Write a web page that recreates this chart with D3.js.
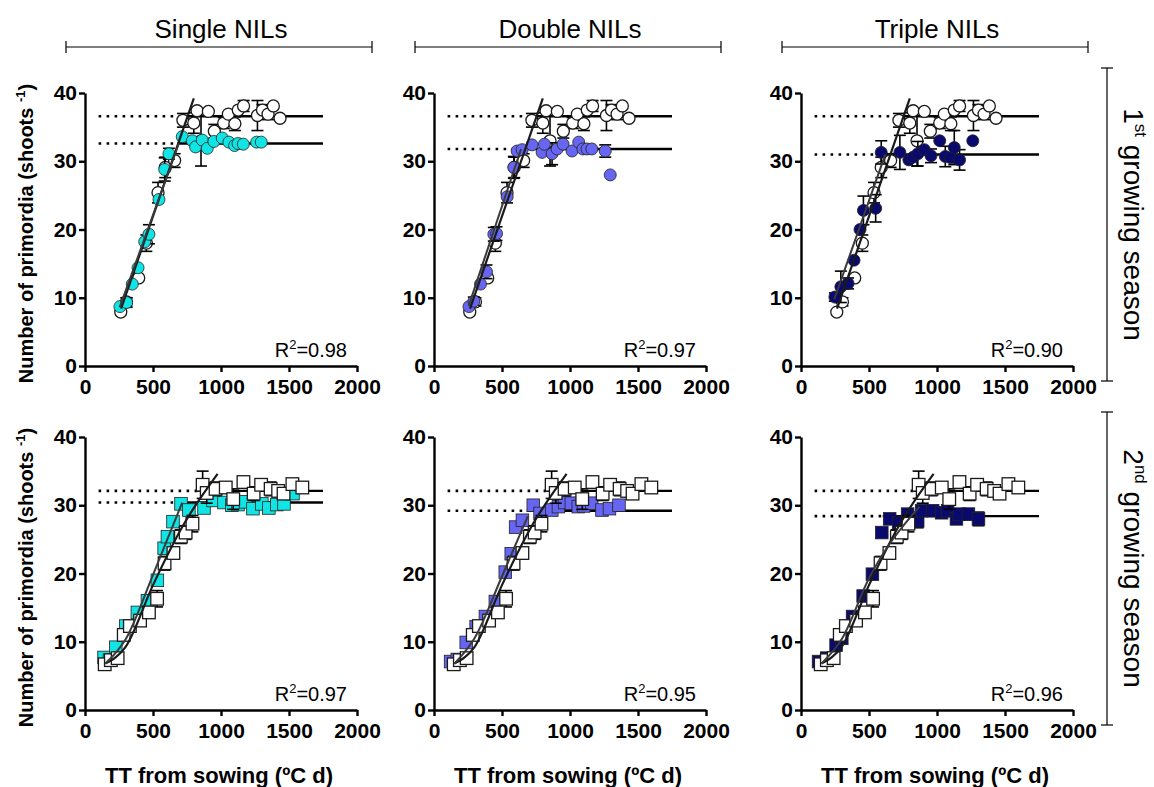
<!DOCTYPE html>
<html>
<head>
<meta charset="utf-8">
<script src="https://cdn.jsdelivr.net/npm/d3@7"></script>
<style>
  body { margin: 0; background: #fff; }
  svg text { font-family: "Liberation Sans", Arial, sans-serif; fill: #000; }
</style>
</head>
<body>
<svg id="chart" width="1154" height="787"></svg>
<script>
// ---- data ----
const xTicks = [0, 500, 1000, 1500, 2000]
const yTicks = [0, 10, 20, 30, 40]
const columnNames = ['Single NILs', 'Double NILs', 'Triple NILs']
const seasonNames = [['1', 'st'], ['2', 'nd']]
const r2Values = [['0.98', '0.97', '0.90'], ['0.97', '0.95', '0.96']]

// 1st season, control (open circles, same in every panel of the row)
const ctrl1X = [263, 305, 395, 451, 537, 590, 659, 720, 800, 824, 853, 907, 951, 1020, 1054, 1102, 1127, 1166, 1268, 1305, 1346, 1385, 1434]
const ctrl1Y = [7.9, 9.4, 12.9, 18.0, 25.4, 29.1, 30.1, 36.0, 35.6, 37.4, 33.0, 37.3, 34.4, 35.6, 36.9, 35.5, 37.5, 38.1, 36.7, 37.5, 36.9, 38.1, 36.3]
const ctrl1E = [0, 0.6, 0, 1.2, 1.5, 1.5, 1, 1, 1.5, 0, 3.7, 0, 1, 0.8, 0, 1, 0, 0.8, 2.2, 0.8, 0.8, 0, 0]

const single1X = [257, 306, 348, 390, 439, 470, 544, 586, 617, 715, 789, 813, 862, 899, 948, 1009, 1058, 1100, 1125, 1164, 1262, 1296]
const single1Y = [8.7, 9.3, 12.0, 14.4, 18.2, 19.3, 24.4, 28.8, 31.1, 33.6, 33.0, 32.1, 33.1, 31.9, 32.9, 33.4, 32.8, 32.3, 32.6, 32.5, 32.8, 32.8]
const single1E = [0, 0.7, 0, 0, 0, 1.4, 0, 1.7, 0.8, 0, 0, 0, 0, 0, 0, 0, 0, 0, 0, 0, 0, 0]

const double1X = [257, 293, 342, 386, 440, 460, 538, 587, 611, 648, 721, 795, 812, 868, 905, 949, 1015, 1064, 1095, 1125, 1161, 1259, 1296]
const double1Y = [8.7, 9.5, 12.0, 13.8, 19.3, 19.4, 24.8, 29.1, 31.5, 31.7, 32.4, 31.3, 32.5, 31.1, 31.8, 32.5, 31.5, 32.8, 31.8, 31.8, 31.8, 31.5, 28.0]
const double1E = [0, 0.6, 0, 1, 1, 1, 0, 1.6, 0, 0, 0, 0, 0, 1.6, 0, 0, 0, 0, 0, 0, 0, 0.9, 0]

const triple1X = [249, 293, 346, 390, 434, 459, 549, 590, 727, 793, 824, 859, 907, 956, 1020, 1061, 1102, 1127, 1166, 1263]
const triple1Y = [10.1, 11.6, 12.1, 15.5, 20.0, 22.8, 23.1, 31.3, 31.3, 30.2, 30.6, 31.1, 31.7, 30.8, 33.0, 30.7, 30.5, 32.0, 30.2, 33.0]
const triple1E = [0.6, 2.3, 0.8, 0, 0, 2.1, 2, 1.7, 2.5, 0, 0, 1.8, 0, 1, 0, 1.5, 0, 2.5, 1.5, 0]

// 2nd season, control (open squares)
const ctrl2X = [145, 190, 240, 285, 330, 405, 470, 530, 585, 650, 705, 740, 790, 865, 895, 960, 1035, 1090, 1165, 1240, 1295, 1365, 1420, 1460, 1525, 1598]
const ctrl2Y = [6.7, 7.3, 7.6, 11.0, 12.3, 13.1, 14.3, 16.3, 21.5, 23.0, 25.4, 26.0, 27.3, 33.0, 31.8, 32.4, 32.6, 30.9, 33.4, 31.7, 33.0, 32.4, 32.1, 31.7, 33.1, 32.6]
const ctrl2E = [0, 0, 0, 0.5, 0, 0, 0, 1.2, 1, 0.8, 1, 1, 1.2, 2, 1.5, 1, 0, 1.5, 0.5, 1, 0.5, 1, 0.8, 0.8, 0, 0.5]

const single2X = [140, 180, 226, 300, 385, 459, 532, 582, 606, 647, 706, 764, 875, 941, 1022, 1080, 1125, 1180, 1235, 1300, 1352, 1410, 1463, 1529]
const single2Y = [7.7, 7.3, 9.2, 12.3, 14.3, 16.0, 19.0, 23.7, 25.4, 27.6, 30.2, 29.3, 29.6, 30.7, 30.4, 30.0, 30.1, 30.5, 29.5, 30.2, 29.6, 30.1, 30.2, 31.7]
const single2E = [0, 0, 0, 0, 0, 0, 0, 0, 0, 0, 0, 0, 0, 0, 0, 0, 0, 0, 0, 0, 0, 0, 0, 0]

const double2X = [122, 171, 237, 310, 378, 451, 524, 568, 600, 650, 730, 780, 866, 915, 960, 1010, 1061, 1100, 1160, 1235, 1290, 1360]
const double2Y = [7.1, 7.4, 9.9, 12.2, 13.7, 15.9, 20.2, 22.9, 26.8, 27.8, 30.0, 28.8, 29.3, 29.8, 30.4, 30.3, 29.8, 29.9, 30.3, 29.3, 29.5, 30.0]
const double2E = [0, 0, 0, 0, 0, 0, 0, 0, 0, 0, 0, 0, 0, 0, 0, 0, 0, 0, 0, 0, 0, 0]

const triple2X = [129, 190, 258, 300, 379, 457, 525, 594, 652, 718, 784, 858, 887, 968, 1034, 1078, 1143, 1165, 1231, 1305]
const triple2Y = [7.1, 7.6, 9.5, 10.5, 13.7, 16.7, 19.9, 26.0, 28.0, 27.4, 28.7, 27.7, 29.2, 29.2, 28.9, 29.2, 28.0, 28.7, 28.7, 28.0]
const triple2E = [0, 0, 0, 0, 0, 0, 0, 0, 0, 0, 0, 1, 0, 0, 0, 0, 0, 0, 0.8, 1]

// fitted lines
const ctrlFit1 = [[265, 8.4], [800, 39.2]]
const nilFit1 = [[[255, 8.6], [690, 32.6]], [[255, 8.8], [640, 31.8]], [[245, 9.8], [620, 31.0]]]
const ctrlFit2 = [[150, 6.8], [300, 9.3], [500, 18.3], [720, 27.0], [975, 34.6]]
const nilFit2 = [
  [[150, 6.8], [300, 10.4], [500, 19.8], [715, 30.4]],
  [[150, 6.8], [300, 10.6], [500, 19.6], [690, 28.4]],
  [[150, 6.8], [300, 10.4], [500, 19.3], [870, 29.8]]
]
const ctrlPlateau = [36.6, 32.1]
const nilPlateau = [[32.6, 31.8, 31.0], [30.4, 29.2, 28.4]]
const ctrlBreak = [700, 825]
const nilBreak = [[680, 570, 550], [670, 682, 601]]
const plateauFrom = 100, plateauTo = 1750

// ---- layout ----
const colLeft = [85, 434, 801]
const rowBottom = [366, 710]
const plotW = 272, plotH = 273
const nilColours = ['#10e4e4', '#6666f2', '#0a0a6e']

const svg = d3.select('#chart')

const rows = [
  {
    shape: 'circle',
    ctrl: { x: ctrl1X, y: ctrl1Y, e: ctrl1E },
    nils: [
      { x: single1X, y: single1Y, e: single1E },
      { x: double1X, y: double1Y, e: double1E },
      { x: triple1X, y: triple1Y, e: triple1E }
    ],
    ctrlFit: ctrlFit1, nilFits: nilFit1, curve: d3.curveLinear
  },
  {
    shape: 'square',
    ctrl: { x: ctrl2X, y: ctrl2Y, e: ctrl2E },
    nils: [
      { x: single2X, y: single2Y, e: single2E },
      { x: double2X, y: double2Y, e: double2E },
      { x: triple2X, y: triple2Y, e: triple2E }
    ],
    ctrlFit: ctrlFit2, nilFits: nilFit2, curve: d3.curveMonotoneX
  }
]

function drawErrors(g, s, x, y) {
  s.x.forEach((v, i) => {
    if (!s.e[i]) return
    const lo = y(s.y[i] - s.e[i]), hi = y(s.y[i] + s.e[i]), cx = x(v)
    g.append('line').attr('x1', cx).attr('x2', cx).attr('y1', lo).attr('y2', hi)
    g.append('line').attr('x1', cx - 6).attr('x2', cx + 6).attr('y1', lo).attr('y2', lo)
    g.append('line').attr('x1', cx - 6).attr('x2', cx + 6).attr('y1', hi).attr('y2', hi)
  })
  g.attr('stroke', '#000').attr('stroke-width', 1.6)
}

function drawMarkers(g, s, x, y, shape, fill, stroke, sw) {
  const pts = s.x.map((v, i) => [v, s.y[i]])
  if (shape === 'circle') {
    g.selectAll('circle').data(pts).enter().append('circle')
      .attr('cx', d => x(d[0])).attr('cy', d => y(d[1])).attr('r', 6)
      .attr('fill', fill).attr('stroke', stroke).attr('stroke-width', sw)
  } else {
    g.selectAll('rect').data(pts).enter().append('rect')
      .attr('x', d => x(d[0]) - 6.3).attr('y', d => y(d[1]) - 6.3)
      .attr('width', 12.6).attr('height', 12.6)
      .attr('fill', fill).attr('stroke', stroke).attr('stroke-width', sw)
  }
}

rows.forEach((row, r) => {
  row.nils.forEach((nil, c) => {
    const x = d3.scaleLinear().domain([0, 2000]).range([colLeft[c], colLeft[c] + plotW])
    const y = d3.scaleLinear().domain([0, 40]).range([rowBottom[r], rowBottom[r] - plotH])
    const g = svg.append('g')

    // plateau lines
    const plateaus = [[ctrlPlateau[r], ctrlBreak[r]], [nilPlateau[r][c], nilBreak[r][c]]]
    plateaus.forEach(([lvl, brk]) => {
      g.append('line')
        .attr('x1', x(plateauFrom)).attr('x2', x(brk)).attr('y1', y(lvl)).attr('y2', y(lvl))
        .attr('stroke', '#000').attr('stroke-width', 2.6).attr('stroke-dasharray', '2.6,5.4')
      g.append('line')
        .attr('x1', x(brk)).attr('x2', x(plateauTo)).attr('y1', y(lvl)).attr('y2', y(lvl))
        .attr('stroke', '#000').attr('stroke-width', 2.4)
    })

    const ctrlG = g.append('g'), nilG = g.append('g')
    const order = r === 0 ? [ctrlG, nilG] : [nilG, ctrlG]
    order[0].raise(); order[1].raise()
    drawErrors(ctrlG.append('g'), row.ctrl, x, y)
    drawMarkers(ctrlG.append('g'), row.ctrl, x, y, row.shape, '#fff', '#1a1a1a', 1.3)
    drawErrors(nilG.append('g'), nil, x, y)
    drawMarkers(nilG.append('g'), nil, x, y, row.shape, nilColours[c], '#222', 0.8)

    // rising fits
    const line = d3.line().x(d => x(d[0])).y(d => y(d[1])).curve(row.curve)
    g.append('path').attr('d', line(row.ctrlFit)).attr('fill', 'none')
      .attr('stroke', '#1a1a1a').attr('stroke-width', 2.2)
    g.append('path').attr('d', line(row.nilFits[c])).attr('fill', 'none')
      .attr('stroke', '#3a3a3a').attr('stroke-width', 2)

    // axes
    const xAxis = g.append('g').attr('transform', `translate(0,${rowBottom[r]})`)
      .call(d3.axisBottom(x).tickValues(xTicks).tickFormat(d3.format('d'))
        .tickSize(6).tickSizeOuter(0).tickPadding(7))
    const yAxis = g.append('g').attr('transform', `translate(${colLeft[c]},0)`)
      .call(d3.axisLeft(y).tickValues(yTicks).tickFormat(d3.format('d'))
        .tickSize(6).tickSizeOuter(0).tickPadding(2))
    ;[xAxis, yAxis].forEach(a => {
      a.select('.domain').attr('stroke-width', 2.4)
      a.selectAll('.tick line').attr('stroke-width', 2.4)
      a.selectAll('.tick text').attr('font-size', 21).attr('font-weight', 'bold')
        .style('font-family', '"Liberation Sans", Arial, sans-serif')
    })

    // R squared
    const rt = g.append('text').attr('x', colLeft[c] + 262).attr('y', rowBottom[r] - 9)
      .attr('text-anchor', 'end').attr('font-size', 20)
    rt.append('tspan').text('R')
    rt.append('tspan').attr('dy', -8).attr('font-size', 13).text('2')
    rt.append('tspan').attr('dy', 8).text('=' + r2Values[r][c])

    // x title
    if (r === 1) {
      svg.append('text').attr('x', colLeft[c] + plotW / 2 - 2).attr('y', 783)
        .attr('text-anchor', 'middle').attr('font-size', 22).attr('font-weight', 'bold')
        .text('TT from sowing (\u00baC d)')
    }
  })

  // y title
  const yt = svg.append('text')
    .attr('transform', `translate(33,${rowBottom[r] - plotH / 2 + 4}) rotate(-90)`)
    .attr('text-anchor', 'middle').attr('font-size', 20).attr('font-weight', 'bold')
  yt.append('tspan').text('Number of primordia (shoots ')
  yt.append('tspan').attr('dy', -8).attr('font-size', 13).text('-1')
  yt.append('tspan').attr('dy', 8).text(')')

  // season bracket
  const top = rowBottom[r] - plotH - 25, bot = rowBottom[r] + 15
  const bx = 1107
  const br = svg.append('g').attr('stroke', '#000').attr('stroke-width', 1.2)
  br.append('line').attr('x1', bx).attr('x2', bx).attr('y1', top).attr('y2', bot)
  br.append('line').attr('x1', bx - 6).attr('x2', bx + 6).attr('y1', top).attr('y2', top)
  br.append('line').attr('x1', bx - 6).attr('x2', bx + 6).attr('y1', bot).attr('y2', bot)
  const st = svg.append('text')
    .attr('transform', `translate(1124,${(top + bot) / 2}) rotate(90)`)
    .attr('text-anchor', 'middle').attr('font-size', 28)
  st.append('tspan').text(seasonNames[r][0])
  st.append('tspan').attr('dy', -11).attr('font-size', 17).text(seasonNames[r][1])
  st.append('tspan').attr('dy', 11).text(' growing season')
})

// column headers
columnNames.forEach((name, c) => {
  const x0 = colLeft[c] - 19, x1 = colLeft[c] + plotW + 15, yb = 47
  const br = svg.append('g').attr('stroke', '#000').attr('stroke-width', 1.2)
  br.append('line').attr('x1', x0).attr('x2', x1).attr('y1', yb).attr('y2', yb)
  br.append('line').attr('x1', x0).attr('x2', x0).attr('y1', yb - 6).attr('y2', yb + 6)
  br.append('line').attr('x1', x1).attr('x2', x1).attr('y1', yb - 6).attr('y2', yb + 6)
  svg.append('text').attr('x', colLeft[c] + plotW / 2).attr('y', 38)
    .attr('text-anchor', 'middle').attr('font-size', 26).text(name)
})
</script>
</body>
</html>
